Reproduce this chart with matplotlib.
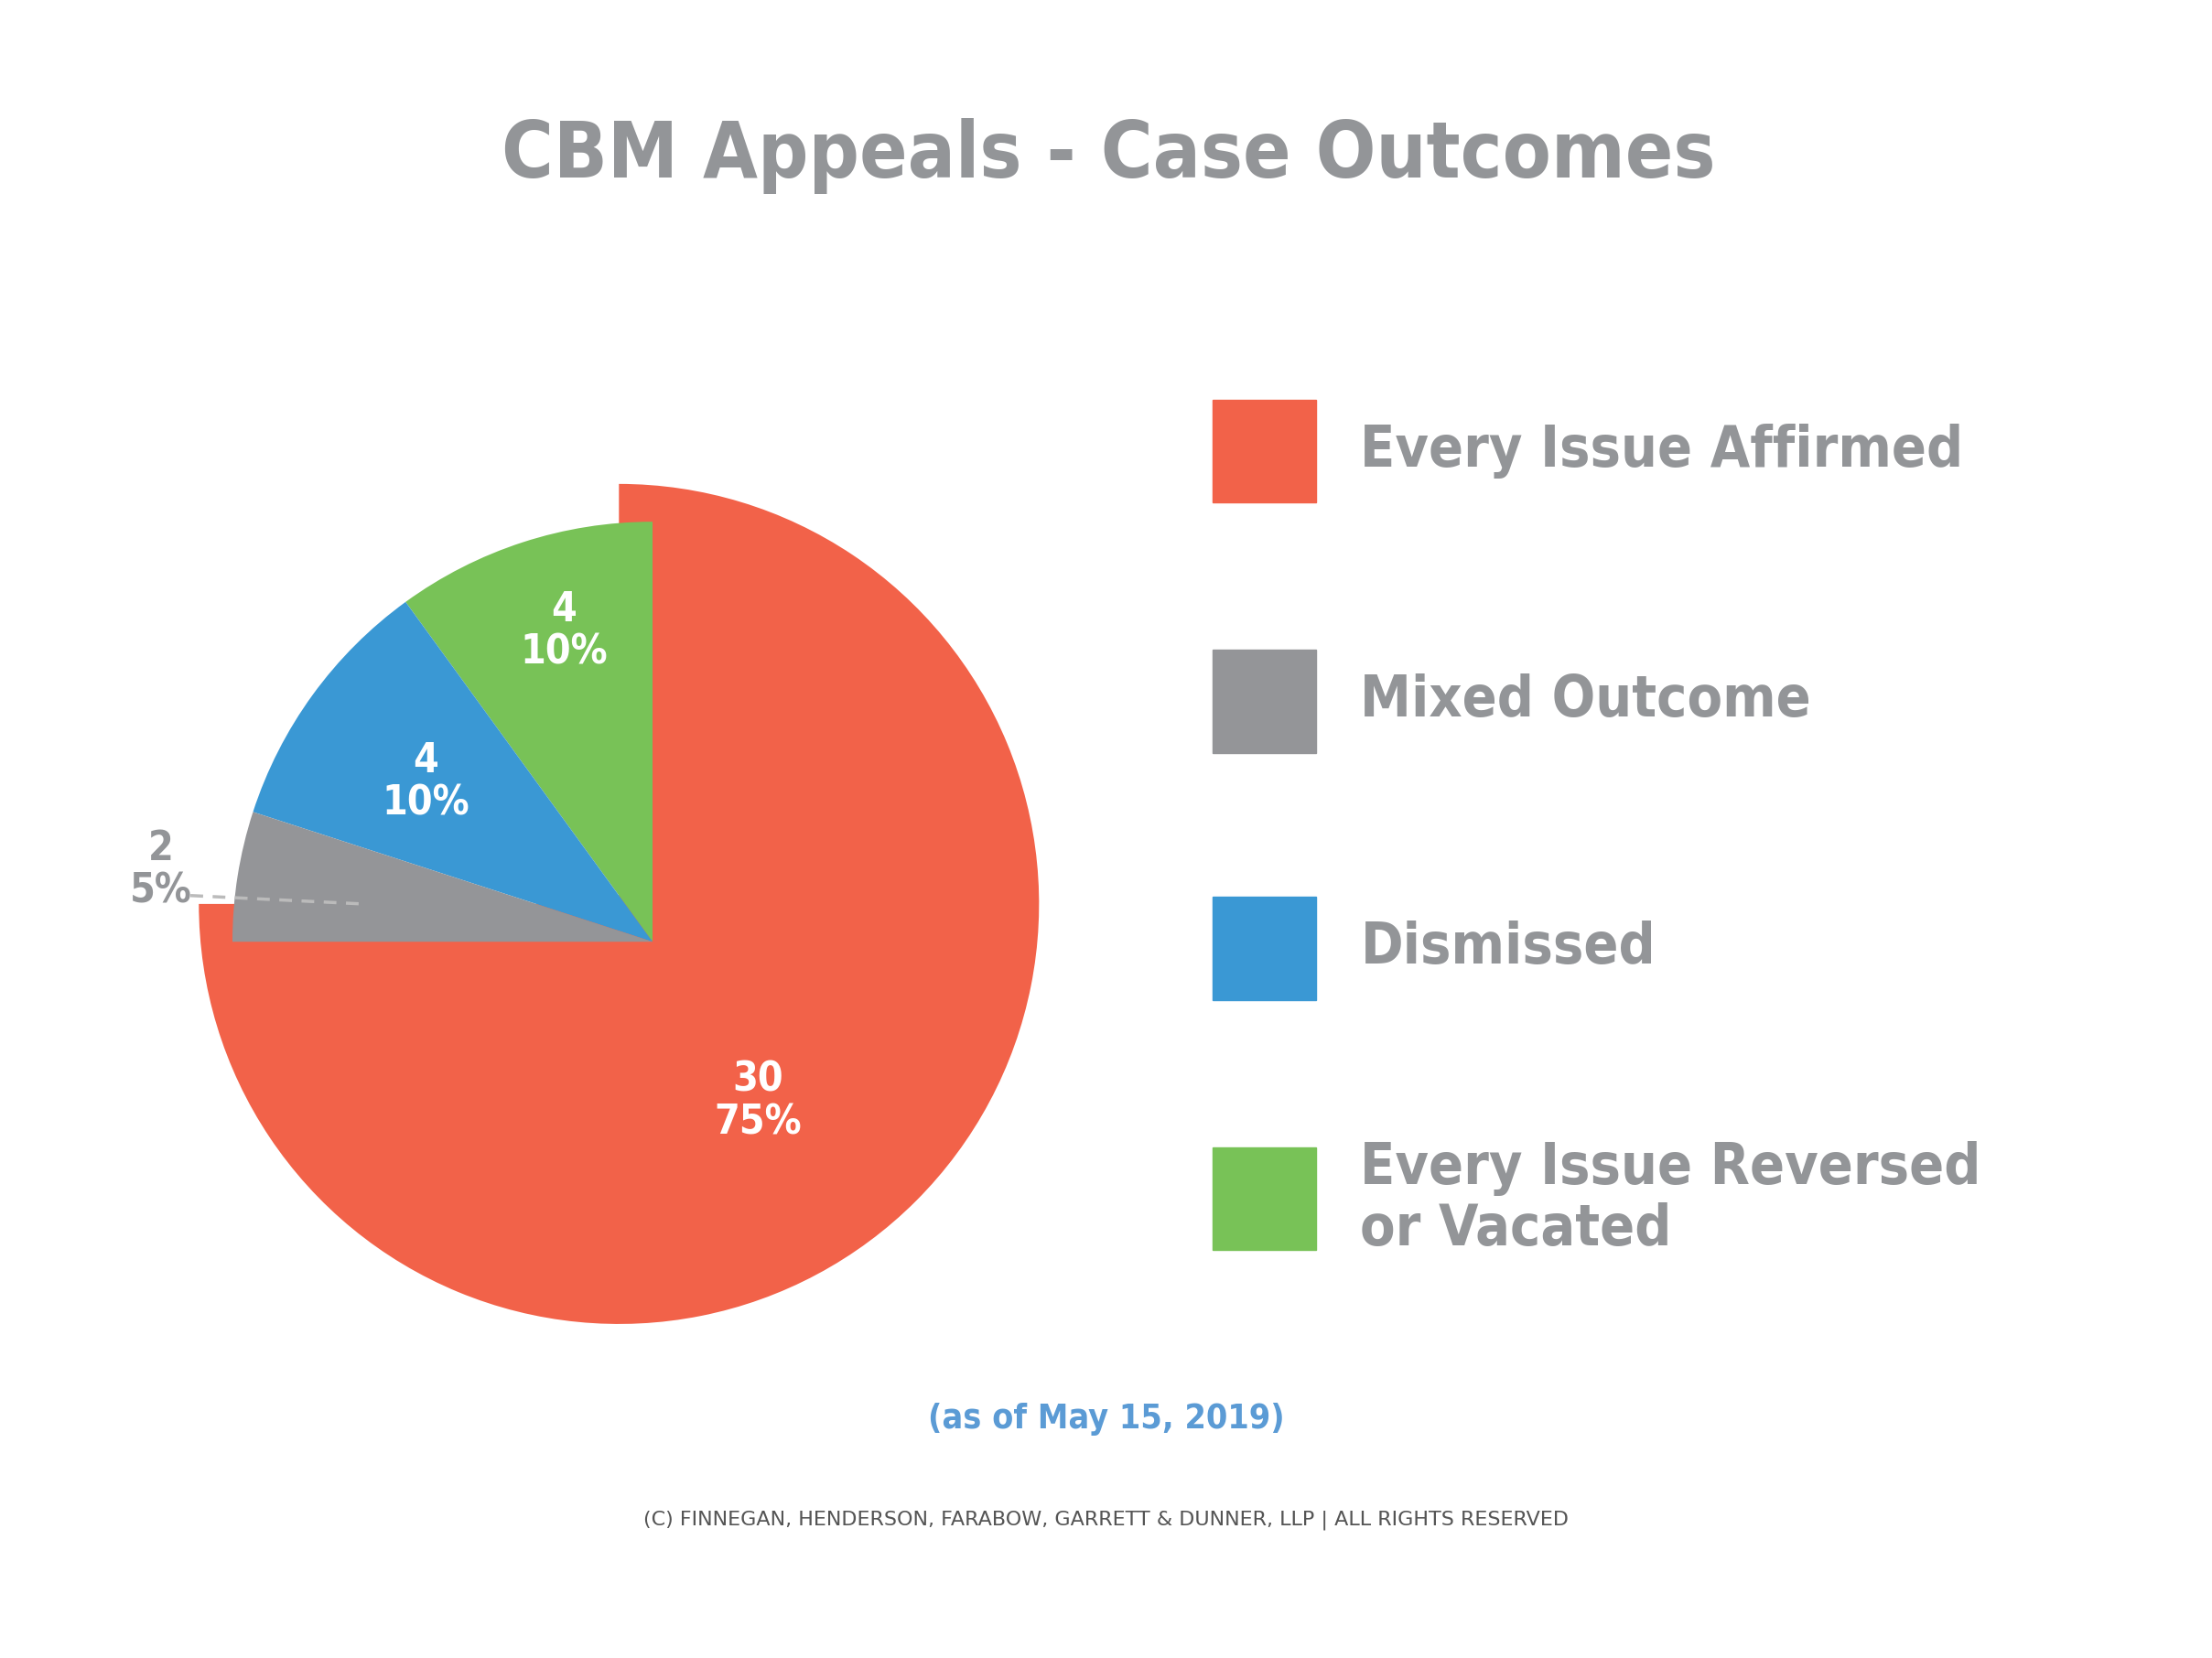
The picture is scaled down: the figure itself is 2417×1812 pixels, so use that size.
import matplotlib
matplotlib.use("Agg")
import matplotlib.pyplot as plt

# pie order (counter-clockwise from 180 deg)
pie_labels = ["Every Issue Affirmed", "Every Issue Reversed\nor Vacated", "Dismissed", "Mixed Outcome"]
pie_counts = [30, 4, 4, 2]
pie_pcts = ["75%", "10%", "10%", "5%"]
pie_colors = ["#F26249", "#78C257", "#3A98D4", "#949598"]

# legend order
legend_labels = ["Every Issue Affirmed", "Mixed Outcome", "Dismissed", "Every Issue Reversed\nor Vacated"]
legend_colors = ["#F26249", "#949598", "#3A98D4", "#78C257"]

FONT = "DejaVu Sans"
STRETCH = "condensed"
GRAY = "#939598"

fig = plt.figure(figsize=(24.17, 18.12), dpi=100)
fig.patch.set_facecolor("white")

ax = fig.add_axes([0.010, 0.052, 0.570, 0.760])
ax.set_aspect("equal")
ax.axis("off")

# red slice drawn slightly offset, behind the small slices
red, _ = ax.pie(pie_counts, colors=pie_colors, startangle=180, counterclock=True,
                radius=1.0, center=(-0.08, 0.09), wedgeprops=dict(linewidth=0))
for w in red[1:]:
    w.set_visible(False)
red[0].set_zorder(1)
wedges, _ = ax.pie(pie_counts, colors=pie_colors, startangle=180, counterclock=True,
                   radius=1.0, wedgeprops=dict(linewidth=0))
wedges[0].set_visible(False)
for w in wedges[1:]:
    w.set_zorder(2)
ax.set_xlim(-1.5, 1.5)
ax.set_ylim(-1.5, 1.5)

lab_pos = [(0.25, -0.38), (-0.21, 0.74), (-0.54, 0.38)]
for (x, y), n, p in zip(lab_pos, pie_counts[:3], pie_pcts[:3]):
    ax.text(x, y, f"{n}\n{p}", ha="center", va="center", color="white", zorder=5,
            fontsize=32, fontweight="bold", family=FONT, fontstretch=STRETCH, linespacing=1.1)
ax.text(-1.17, 0.17, f"{pie_counts[3]}\n{pie_pcts[3]}", ha="center", va="center",
        color=GRAY, fontsize=32, fontweight="bold", family=FONT, fontstretch=STRETCH,
        linespacing=1.1)
ax.plot([-1.10, -0.69], [0.11, 0.09], ls=(0, (4, 3)), color="#BBBBBB", lw=2.5, zorder=5)

fig.text(0.501, 0.906, "CBM Appeals - Case Outcomes", ha="center", va="center",
         color=GRAY, fontsize=62, fontweight="bold", family=FONT, fontstretch=STRETCH)

rows_y = [0.728, 0.577, 0.428, 0.277]
for y, lab, col in zip(rows_y, legend_labels, legend_colors):
    fig.patches.append(plt.Rectangle((0.548, y - 0.031), 0.047, 0.062, color=col,
                                     transform=fig.transFigure, figure=fig))
    fig.text(0.615, y, lab, ha="left", va="center", color=GRAY, fontsize=45,
             fontweight="bold", family=FONT, fontstretch=STRETCH, linespacing=1.15)

fig.text(0.5, 0.144, "(as of May 15, 2019)", ha="center", va="center",
         color="#5B9BD5", fontsize=27, fontweight="bold", family=FONT, fontstretch=STRETCH)
fig.text(0.5, 0.083, "(C) FINNEGAN, HENDERSON, FARABOW, GARRETT & DUNNER, LLP | ALL RIGHTS RESERVED",
         ha="center", va="center", color="#555555", fontsize=16, family=FONT)

fig.savefig("out.png", dpi=100)
